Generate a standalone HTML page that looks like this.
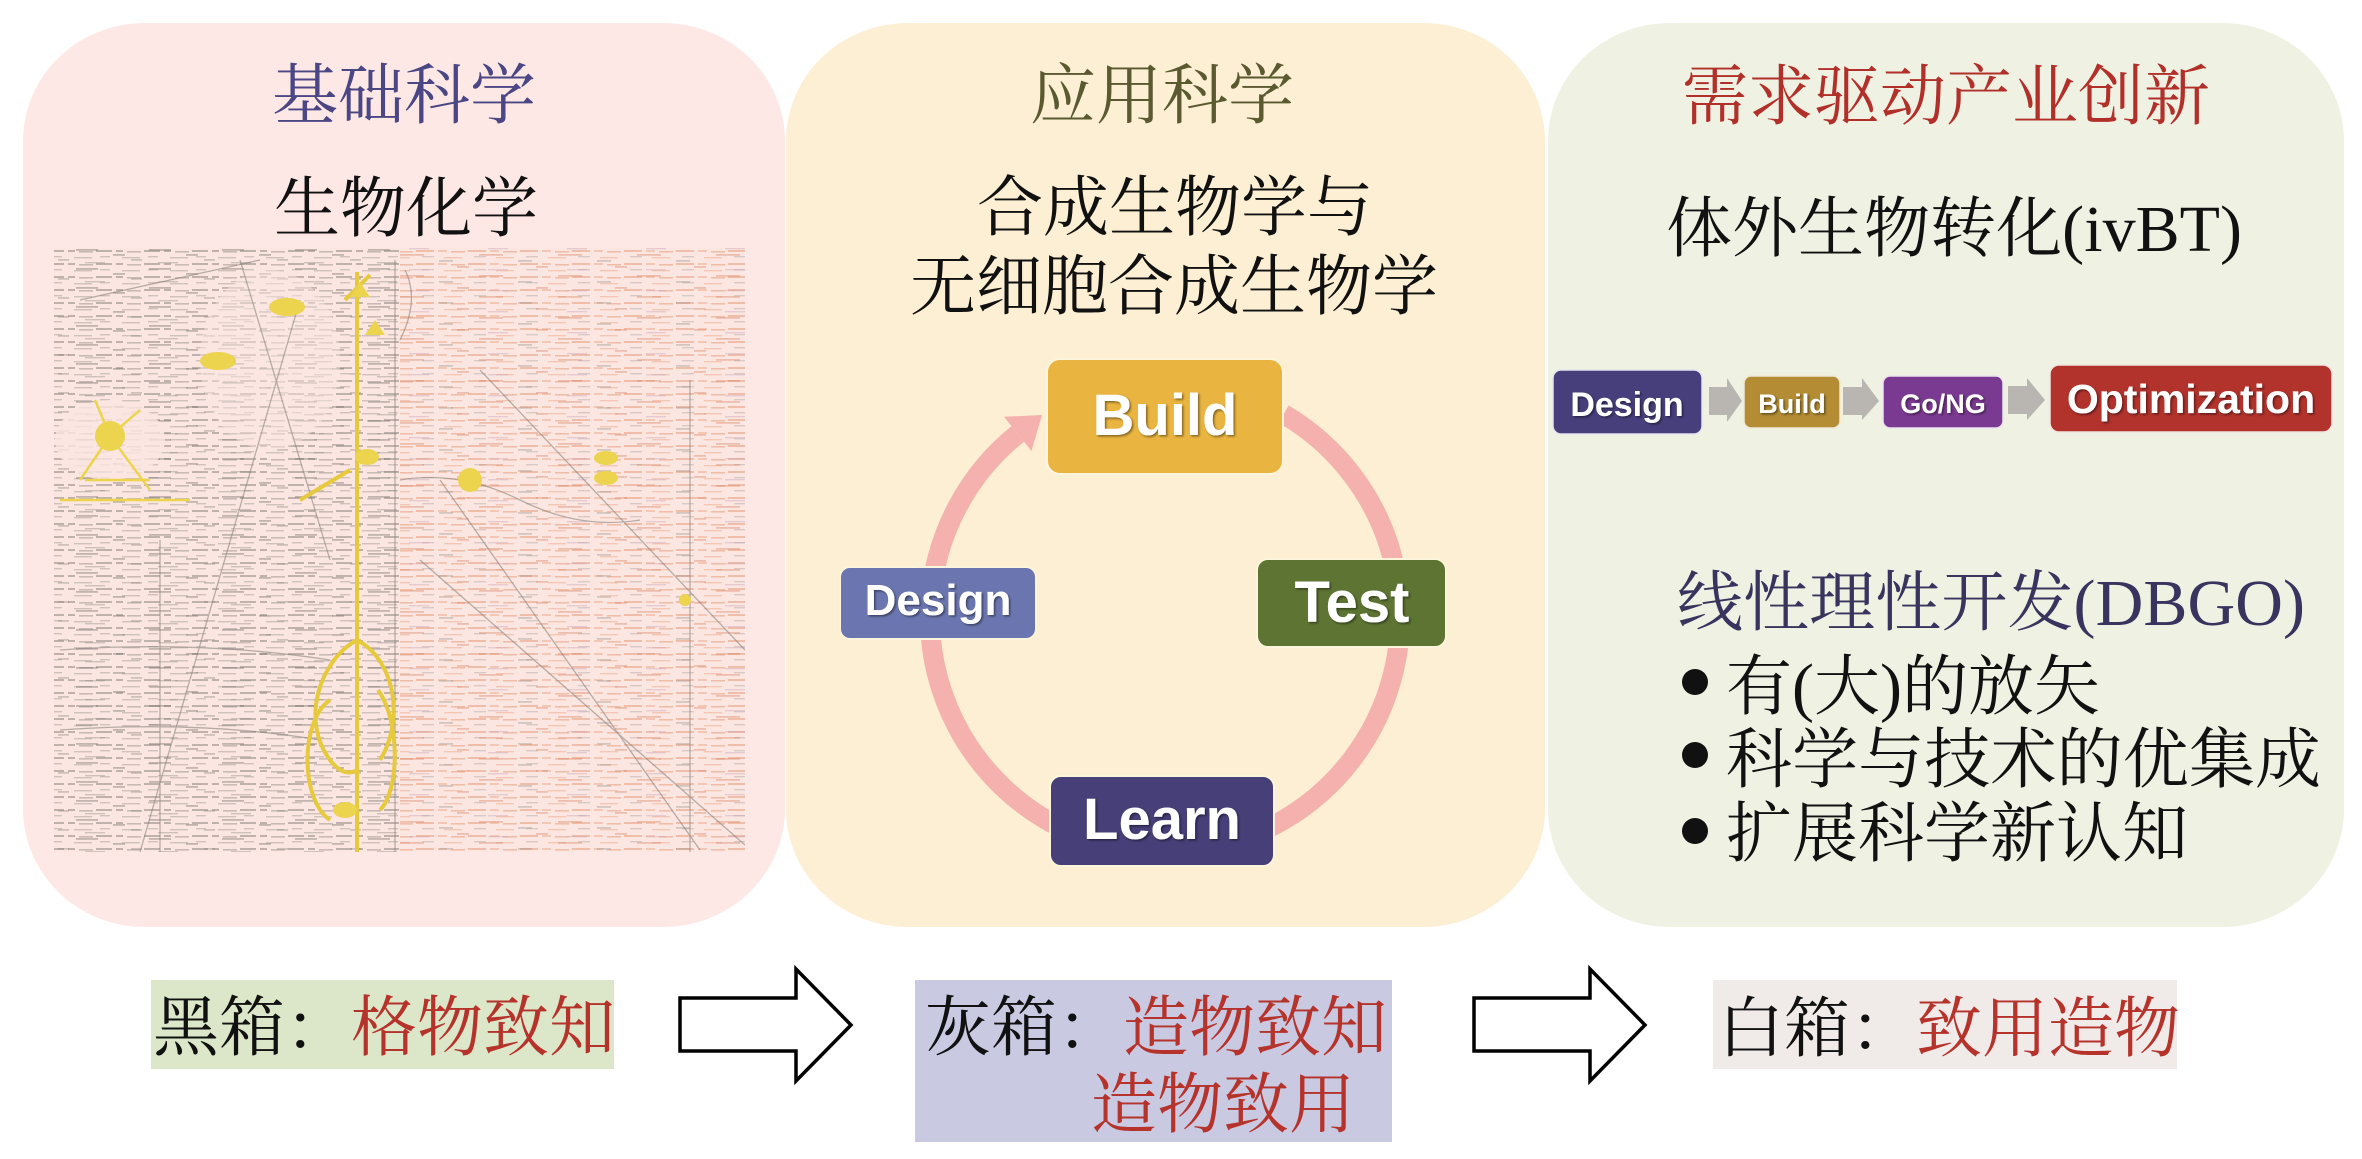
<!DOCTYPE html>
<html>
<head>
<meta charset="utf-8">
<style>
  html,body{margin:0;padding:0;background:#ffffff;}
  body{width:2362px;height:1159px;overflow:hidden;}
  svg{display:block;}
  .cjk{font-family:"Liberation Serif","Noto Serif CJK SC","Noto Sans CJK SC",serif;}
  .lat{font-family:"Liberation Sans",Arial,sans-serif;font-weight:bold;}
</style>
</head>
<body>
<svg width="2362" height="1159" viewBox="0 0 2362 1159" xmlns="http://www.w3.org/2000/svg">
  <defs>
    <filter id="sh" x="-10%" y="-10%" width="130%" height="140%">
      <feDropShadow dx="1.5" dy="1.5" stdDeviation="1" flood-color="#000" flood-opacity="0.45"/>
    </filter>
    <pattern id="pg" width="48" height="13" patternUnits="userSpaceOnUse">
      <rect x="0" y="3" width="16" height="2" fill="#77716c"/>
      <rect x="20" y="3" width="7" height="2" fill="#77716c"/>
      <rect x="31" y="4" width="14" height="1.6" fill="#8b8580"/>
      <rect x="4" y="9" width="10" height="1.4" fill="#9a948e"/>
      <rect x="26" y="10" width="18" height="1.4" fill="#9a948e"/>
    </pattern>
    <pattern id="pg2" width="73" height="19" patternUnits="userSpaceOnUse">
      <rect x="3" y="2" width="22" height="1.8" fill="#6f6a66"/>
      <rect x="40" y="7" width="12" height="1.8" fill="#6f6a66"/>
      <rect x="58" y="12" width="11" height="1.8" fill="#8c8781"/>
      <rect x="12" y="15" width="20" height="1.4" fill="#8c8781"/>
    </pattern>
    <pattern id="po" width="52" height="13" patternUnits="userSpaceOnUse">
      <rect x="0" y="3" width="18" height="2" fill="#e38a63"/>
      <rect x="22" y="3" width="9" height="2" fill="#e9a07e"/>
      <rect x="35" y="4" width="14" height="1.6" fill="#e38a63"/>
      <rect x="6" y="9" width="12" height="1.4" fill="#b0a6a0"/>
      <rect x="28" y="10" width="18" height="1.4" fill="#e9a07e"/>
    </pattern>
    <pattern id="po2" width="79" height="21" patternUnits="userSpaceOnUse">
      <rect x="5" y="2" width="24" height="1.8" fill="#d9835f"/>
      <rect x="44" y="8" width="14" height="1.8" fill="#9c948f"/>
      <rect x="62" y="14" width="12" height="1.8" fill="#d9835f"/>
      <rect x="14" y="17" width="20" height="1.4" fill="#c9a0b8"/>
    </pattern>
    <clipPath id="mapclip"><rect x="54" y="248" width="691" height="604"/></clipPath>
  </defs>

  <!-- Panels -->
  <rect x="23" y="23" width="762" height="904" rx="122" ry="118" fill="#fde8e6"/>
  <rect x="786" y="23" width="759" height="904" rx="122" ry="118" fill="#fcefd3"/>
  <rect x="1548" y="23" width="796" height="904" rx="122" ry="118" fill="#eff1e3"/>

  <!-- Panel 1 text -->
  <text class="cjk" x="404" y="118" font-size="66" fill="#4b4684" text-anchor="middle">基础科学</text>
  <text class="cjk" x="406" y="231" font-size="66" fill="#111" text-anchor="middle">生物化学</text>

  <!-- Metabolic map approximation -->
  <g clip-path="url(#mapclip)">
    <rect x="54" y="248" width="691" height="604" fill="#fbe6e1"/>
    <rect x="54" y="248" width="345" height="604" fill="url(#pg)" opacity="0.45"/>
    <rect x="54" y="248" width="345" height="604" fill="url(#pg2)" opacity="0.4"/>
    <rect x="400" y="248" width="345" height="604" fill="url(#po)" opacity="0.45"/>
    <rect x="400" y="248" width="345" height="604" fill="url(#po2)" opacity="0.4"/>
    <!-- light areas -->
    <ellipse cx="270" cy="360" rx="70" ry="90" fill="#fbe6e1" opacity="0.5"/>
    <ellipse cx="110" cy="440" rx="55" ry="40" fill="#fbe6e1" opacity="0.8"/>
    <!-- grey lines -->
    <g stroke="#8a847f" stroke-width="1.3" fill="none" opacity="0.6">
      <line x1="395" y1="260" x2="395" y2="852"/>
      <line x1="420" y1="560" x2="745" y2="845"/>
      <line x1="440" y1="480" x2="700" y2="850"/>
      <line x1="300" y1="300" x2="140" y2="852"/>
      <line x1="240" y1="260" x2="330" y2="560"/>
      <line x1="80" y1="300" x2="260" y2="260"/>
      <line x1="480" y1="370" x2="745" y2="650"/>
      <line x1="160" y1="540" x2="160" y2="852"/>
      <line x1="690" y1="380" x2="690" y2="852"/>
      <path d="M400 480 Q460 470 520 500 T640 520"/>
      <path d="M60 650 Q200 640 330 660"/>
      <path d="M60 730 Q200 720 320 740"/>
      <path d="M405 270 Q420 300 400 340"/>
    </g>
    <!-- yellow central pathway -->
    <g stroke="#e7c93c" fill="none" stroke-width="4">
      <line x1="357" y1="272" x2="357" y2="852"/>
      <path d="M357 640 C320 660 300 720 330 760 C345 780 357 770 357 770"/>
      <path d="M357 640 C395 660 405 720 380 760"/>
      <path d="M330 700 C300 720 300 800 330 820"/>
      <path d="M378 690 C400 720 400 790 380 810"/>
      <line x1="300" y1="500" x2="350" y2="470"/>
      <line x1="345" y1="300" x2="370" y2="275"/>
    </g>
    <g fill="#ecd44f">
      <ellipse cx="287" cy="307" rx="18" ry="9"/>
      <ellipse cx="218" cy="361" rx="18" ry="9"/>
      <circle cx="110" cy="436" r="15"/>
      <ellipse cx="367" cy="457" rx="12" ry="8"/>
      <circle cx="470" cy="480" r="12"/>
      <ellipse cx="606" cy="458" rx="12" ry="7"/>
      <ellipse cx="606" cy="478" rx="12" ry="7"/>
      <ellipse cx="345" cy="810" rx="12" ry="8"/>
      <circle cx="685" cy="600" r="6"/>
      <path d="M360 282 l10 15 h-20 z"/>
      <path d="M375 320 l10 15 h-20 z"/>
    </g>
    <g stroke="#ecd44f" stroke-width="2.5" fill="none">
      <line x1="110" y1="436" x2="80" y2="480"/>
      <line x1="110" y1="436" x2="150" y2="490"/>
      <line x1="110" y1="436" x2="95" y2="400"/>
      <line x1="110" y1="436" x2="140" y2="410"/>
      <line x1="85" y1="480" x2="150" y2="480"/>
      <line x1="60" y1="500" x2="190" y2="500"/>
    </g>
  </g>

  <!-- Panel 2 text -->
  <text class="cjk" x="1162" y="118" font-size="66" fill="#5a5930" text-anchor="middle">应用科学</text>
  <text class="cjk" x="1175" y="230" font-size="66" fill="#111" text-anchor="middle">合成生物学与</text>
  <text class="cjk" x="1174" y="309" font-size="66" fill="#111" text-anchor="middle">无细胞合成生物学</text>

  <!-- DBTL cycle ring -->
  <path d="M1283.6 414.1 A235 235 0 1 1 1017.7 433.9" fill="none" stroke="#f4b1ae" stroke-width="20"/>
  <polygon points="1042,415 1003.9,416.8 1031.5,451" fill="#f4b1ae"/>

  <!-- cycle boxes -->
  <rect x="1047" y="359" width="236" height="115" rx="13" fill="#e9b43f" stroke="#fdf4dc" stroke-width="2"/>
  <text class="lat" x="1165" y="435" font-size="58" fill="#fff" text-anchor="middle" filter="url(#sh)">Build</text>

  <rect x="840" y="567" width="196" height="72" rx="10" fill="#6b76b0" stroke="#fdf4dc" stroke-width="2"/>
  <text class="lat" x="938" y="615" font-size="44" fill="#fff" text-anchor="middle" filter="url(#sh)">Design</text>

  <rect x="1257" y="559" width="189" height="88" rx="11" fill="#5e7433" stroke="#fdf4dc" stroke-width="2"/>
  <text class="lat" x="1352" y="622" font-size="58" fill="#fff" text-anchor="middle" filter="url(#sh)">Test</text>

  <rect x="1050" y="776" width="224" height="90" rx="11" fill="#463f78" stroke="#fdf4dc" stroke-width="2"/>
  <text class="lat" x="1162" y="839" font-size="58" fill="#fff" text-anchor="middle" filter="url(#sh)">Learn</text>

  <!-- Panel 3 text -->
  <text class="cjk" x="1946" y="119" font-size="66" fill="#b2302a" text-anchor="middle">需求驱动产业创新</text>
  <text class="cjk" x="1666" y="251" font-size="66" fill="#111" textLength="576" lengthAdjust="spacing">体外生物转化(ivBT)</text>

  <!-- pipeline -->
  <rect x="1553" y="370" width="149" height="64" rx="8" fill="#463f7c" stroke="#e6e2ee" stroke-width="1.5"/>
  <text class="lat" x="1627" y="416" font-size="34" fill="#fff" text-anchor="middle" filter="url(#sh)">Design</text>
  <rect x="1709" y="387" width="18" height="28" fill="#b9b5b1"/>
  <polygon points="1727,378 1742,401 1727,422" fill="#b9b5b1"/>

  <rect x="1744" y="376" width="96" height="52" rx="7" fill="#b38c34" stroke="#efe9d6" stroke-width="1.5"/>
  <text class="lat" x="1792" y="413" font-size="27" fill="#fff" text-anchor="middle" filter="url(#sh)">Build</text>
  <rect x="1843" y="387" width="19" height="28" fill="#b9b5b1"/>
  <polygon points="1862,378 1879,401 1862,420" fill="#b9b5b1"/>

  <rect x="1883" y="376" width="120" height="52" rx="7" fill="#7b3a91" stroke="#ece4ef" stroke-width="1.5"/>
  <text class="lat" x="1943" y="413" font-size="27" fill="#fff" text-anchor="middle" filter="url(#sh)">Go/NG</text>
  <rect x="2008" y="386" width="19" height="28" fill="#b9b5b1"/>
  <polygon points="2027,378 2045,400 2027,420" fill="#b9b5b1"/>

  <rect x="2050" y="365" width="282" height="67" rx="9" fill="#b2322c" stroke="#f2e4e0" stroke-width="1.5"/>
  <text class="lat" x="2191" y="413" font-size="41" fill="#fff" text-anchor="middle" filter="url(#sh)">Optimization</text>

  <text class="cjk" x="1677" y="625" font-size="66" fill="#38345e" textLength="628" lengthAdjust="spacing">线性理性开发(DBGO)</text>

  <circle cx="1695" cy="682" r="13" fill="#111"/>
  <text class="cjk" x="1726" y="709" font-size="66" fill="#111">有(大)的放矢</text>
  <circle cx="1695" cy="755" r="13" fill="#111"/>
  <text class="cjk" x="1726" y="782" font-size="66" fill="#111" textLength="595" lengthAdjust="spacing">科学与技术的优集成</text>
  <circle cx="1695" cy="831" r="13" fill="#111"/>
  <text class="cjk" x="1726" y="856" font-size="66" fill="#111">扩展科学新认知</text>

  <!-- bottom labels -->
  <rect x="151" y="980" width="463" height="89" fill="#dce6c9"/>
  <text class="cjk" x="153" y="1050" font-size="66"><tspan fill="#111">黑箱：</tspan><tspan fill="#b5332b">格物致知</tspan></text>

  <polygon points="680,998 796,998 796,969 851,1025 796,1081 796,1051 680,1051" fill="#fff" stroke="#000" stroke-width="3.5" stroke-linejoin="miter"/>

  <rect x="915" y="980" width="477" height="162" fill="#c9c9e2"/>
  <text class="cjk" x="925" y="1050" font-size="66"><tspan fill="#111">灰箱：</tspan><tspan fill="#b5332b">造物致知</tspan></text>
  <text class="cjk" x="1091" y="1127" font-size="66" fill="#b5332b">造物致用</text>

  <polygon points="1474,998 1590,998 1590,969 1645,1025 1590,1081 1590,1051 1474,1051" fill="#fff" stroke="#000" stroke-width="3.5" stroke-linejoin="miter"/>

  <rect x="1713" y="980" width="464" height="89" fill="#f0eae9"/>
  <text class="cjk" x="1718" y="1051" font-size="66"><tspan fill="#111">白箱：</tspan><tspan fill="#b5332b">致用造物</tspan></text>
</svg>
</body>
</html>
